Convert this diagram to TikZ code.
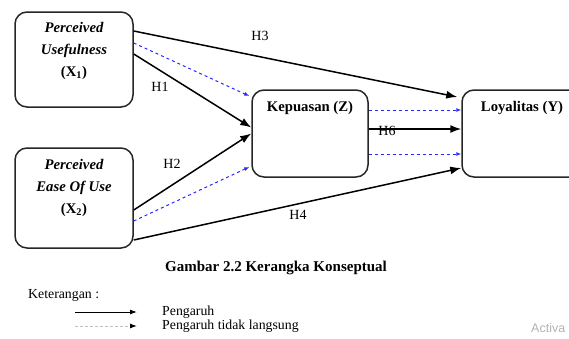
\documentclass[tikz,border=0pt]{standalone}
\usepackage{fontspec}
\setmainfont{Liberation Serif}
\newfontfamily\wmfont{Liberation Sans}
\usetikzlibrary{arrows.meta,calc}
\definecolor{indblue}{RGB}{40,40,255}
\begin{document}
\begin{tikzpicture}[x=1pt,y=-1pt,
  varbox/.style={draw=black!85,line width=1.5pt,rounded corners=12pt,inner sep=0pt},
  vartext/.style={font=\fontsize{14.7}{21}\selectfont\bfseries,align=center},
  direct/.style={line width=1.5pt,-{Latex[length=11pt,width=8pt]}},
  indirect/.style={indblue,line width=1pt,dash pattern=on 3pt off 3pt,-{Latex[length=5pt,width=4pt]}},
  hlabel/.style={font=\fontsize{14}{16}\selectfont},
  legtext/.style={font=\fontsize{13.8}{16}\selectfont,anchor=west,inner sep=0pt}]
\useasboundingbox (0,0) rectangle (569,338);
\begin{scope}
\clip (0,0) rectangle (569,338);

% variable boxes
\node[varbox,minimum width=118pt,minimum height=95pt] (X1) at (74,59.5) {};
\node[varbox,minimum width=118pt,minimum height=100pt] (X2) at (74,198) {};
\node[varbox,minimum width=116pt,minimum height=87pt] (Z) at (310,133.5) {};
\node[varbox,minimum width=120pt,minimum height=87pt] (Y) at (522,133.5) {};

% box texts
\node[vartext] (X1t) at (74,51) {\itshape Perceived\\[1pt]\itshape Usefulness\\[1pt](X\textsubscript{1})};
\node[vartext] (X2t) at (74,188) {\itshape Perceived\\[1pt]\itshape Ease Of Use\\[1pt](X\textsubscript{2})};
\node[vartext] (Zt) at (310,108) {Kepuasan (Z)};
\node[vartext] (Yt) at (522,108) {Loyalitas (Y)};

% direct effects
\draw[direct] ([yshift=28.5pt]X1.east) -- ([xshift=-4pt,yshift=36.5pt]Y.west);
\draw[direct] ([yshift=5.5pt]X1.east) -- ([yshift=6pt]Z.west);
\draw[direct] ([yshift=-12pt]X2.east) -- ([yshift=0pt]Z.west);
\draw[direct] ([yshift=-42pt]X2.east) -- ([yshift=-34.5pt]Y.west);
\draw[direct] ([yshift=4.5pt]Z.east) -- ([yshift=4.5pt]Y.west);

% indirect effects
\draw[indirect] ([yshift=16.5pt]X1.east) -- ([xshift=-2pt,yshift=37.5pt]Z.west);
\draw[indirect] ([yshift=-23pt]X2.east) -- ([xshift=-2pt,yshift=-33.5pt]Z.west);
\draw[indirect] ([yshift=23.5pt]Z.east) -- ([yshift=23.5pt]Y.west);
\draw[indirect] ([yshift=-20.5pt]Z.east) -- ([yshift=-20.5pt]Y.west);

% hypothesis labels
\node[hlabel] (H3) at (260,36) {H3};
\node[hlabel] (H1) at (160,87) {H1};
\node[hlabel] (H2) at (172,164) {H2};
\node[hlabel] (H6) at (387,131) {H6};
\node[hlabel] (H4) at (298,215) {H4};

% caption
\node[font=\fontsize{15}{18}\selectfont\bfseries] (cap) at (276,268) {Gambar 2.2 Kerangka Konseptual};

% legend
\node[legtext] (ket) at (28,295) {Keterangan :};
\coordinate (l1a) at (75,312);
\coordinate (l1b) at (137,312);
\coordinate (l2a) at (75,326);
\coordinate (l2b) at (137,326);
\draw[line width=1pt,-{Latex[length=7pt,width=5pt]}] (l1a) -- (l1b);
\draw[black!25,line width=1pt,dash pattern=on 3pt off 2pt,-{Latex[length=7pt,width=5pt,fill=black,color=black]}] (l2a) -- (l2b);
\node[legtext] (leg1) at (162,312) {Pengaruh};
\node[legtext] (leg2) at (162,326) {Pengaruh tidak langsung};

% faint system text at the lower right
\node[anchor=west,inner sep=0pt,text=black!30,font=\wmfont\fontsize{12.5}{15}\selectfont] (wm) at (531,328) {Activa};
\end{scope}
\end{tikzpicture}
\end{document}
